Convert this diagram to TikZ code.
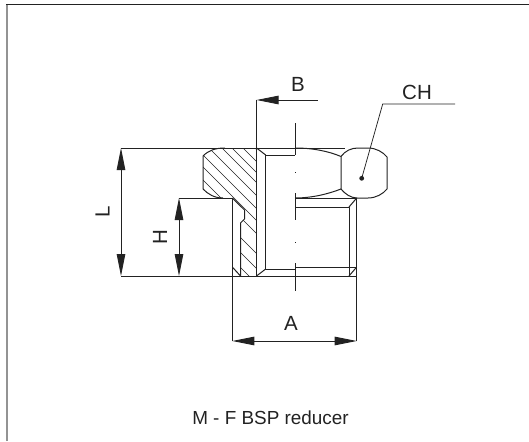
\documentclass[tikz,border=0pt]{standalone}
\usepackage{fontspec}
\setmainfont{Liberation Sans}
\usetikzlibrary{arrows.meta}
\definecolor{ink}{HTML}{222222}
\tikzset{
  part/.style={draw=ink,line width=1pt,line join=round},
  thin part/.style={draw=ink,line width=0.75pt},
  hatchline/.style={draw=ink,line width=0.65pt},
  dimline/.style={draw=ink,line width=0.85pt},
  dimarrows/.style={dimline,{Triangle[length=22pt,width=8.5pt]}-{Triangle[length=22pt,width=8.5pt]}},
  label/.style={font=\fontsize{20.5}{20.5}\selectfont,text=ink,inner sep=0pt},
  framing/.style={line width=1.3pt},
}
\begin{document}
\begin{tikzpicture}[x=1pt,y=-1pt]
\useasboundingbox (0,0) rectangle (529,441);
% frame
\draw[framing,draw=gray!85] (7,441) -- (7,4.5);
\draw[framing,draw=ink] (6.4,4.5) -- (529,4.5);
% hatching
\begin{scope}
\clip (203,156) .. controls (209,150) and (216,148) .. (225,148) -- (256.5,148) -- (256.5,276) -- (240.5,276) -- (240.5,223) -- (244.5,219) -- (244.5,210) -- (232,198) -- (223,198) .. controls (214,198) and (208,194) .. (203,189) -- cycle;
\foreach \c in {-107,-95,-84,-74,-61,-48,-36,-23,-3,12,27}
  \draw[hatchline] (190,190+\c) -- (270,270+\c);
\end{scope}
% extension and dimension lines
\coordinate (Ltop) at (121,148);
\coordinate (Lbot) at (121,276);
\coordinate (Htop) at (179,198);
\coordinate (Hbot) at (179,276);
\coordinate (Aleft) at (232.3,341);
\coordinate (Aright) at (356.7,341);
\draw[thin part] (Ltop) -- (345,148);
\draw[thin part] (Lbot) -- (356.7,276);
\draw[thin part] (Htop) -- (232.3,198);
\draw[dimarrows] (Ltop) -- (Lbot);
\draw[dimarrows] (Htop) -- (Hbot);
\draw[dimarrows] (Aleft) -- (Aright);
\draw[thin part] (232.3,198) -- (Aleft);
\draw[thin part] (356.7,198) -- (Aright);
% flange and neck
\draw[part] (223,198) .. controls (214,198) and (208,194) .. (203,189) -- (203,156) .. controls (209,150) and (216,148) .. (225,148);
\draw[part] (232.3,198) -- (244.5,210) -- (244.5,219) -- (240.5,223) -- (240.5,276);
\draw[part] (232.3,267) -- (240.5,276);
% B reference
\coordinate (Bfoot) at (256.5,276);
\coordinate (Bcorner) at (256.5,100);
\coordinate (Bend) at (318,100);
\draw[thin part] (Bfoot) -- (Bcorner);
\draw[dimline,{Triangle[length=22pt,width=8.5pt]}-] (Bcorner) -- (Bend);
% bore
\draw[part] (295,155) -- (265.7,155) -- (265.7,269) -- (295,269);
\draw[part] (256.5,148) -- (265.7,155);
\draw[part] (265.7,269) -- (256.5,276);
% centre line
\draw[thin part] (295,123) -- (295,155);
\draw[thin part] (295,193) -- (295,220);
\draw[thin part] (295,263) -- (295,291);
\fill[ink] (294.5,171.5) rectangle (295.5,172.5);
\fill[ink] (294.5,241.5) rectangle (295.5,242.5);
% hex head
\draw[part] (295,148) .. controls (312,148) and (328,151) .. (341,156.5) -- (341,189) .. controls (328,194) and (312,198) .. (295,198);
\draw[part] (341,156.5) .. controls (345,151) and (351,148) .. (358,148) -- (368,148) .. controls (376,148) and (383,152) .. (387,157) -- (387,189) .. controls (383,194) and (376,198) .. (368,198) -- (357,198) .. controls (351,198) and (345,194) .. (341,189);
% male thread
\draw[part] (295,198) -- (356.7,198);
\draw[part] (295,207) -- (349,207) -- (349,276);
\draw[part] (356.7,198) -- (349,207);
\draw[part] (295,267) -- (356.7,267);
\draw[part] (356.7,267) -- (349,276);
% CH leader
\fill[ink] (361.7,178.3) circle (2.4);
\coordinate (CHdot) at (361.7,178.3);
\coordinate (CHknee) at (382.7,104);
\coordinate (CHend) at (455,104);
\draw[thin part] (CHdot) -- (CHknee) -- (CHend);
% labels
\node[label] (labelA) at (291,323) {A};
\node[label] (labelB) at (298,84) {B};
\node[label] (labelCH) at (417,92) {CH};
\node[label,rotate=90] (labelL) at (102.5,211.5) {L};
\node[label,rotate=90] (labelH) at (160,237.5) {H};
\node[font=\fontsize{18.9}{18.9}\selectfont,text=ink,inner sep=0pt] (caption) at (270.5,417.5) {M - F BSP reducer};
\end{tikzpicture}
\end{document}
